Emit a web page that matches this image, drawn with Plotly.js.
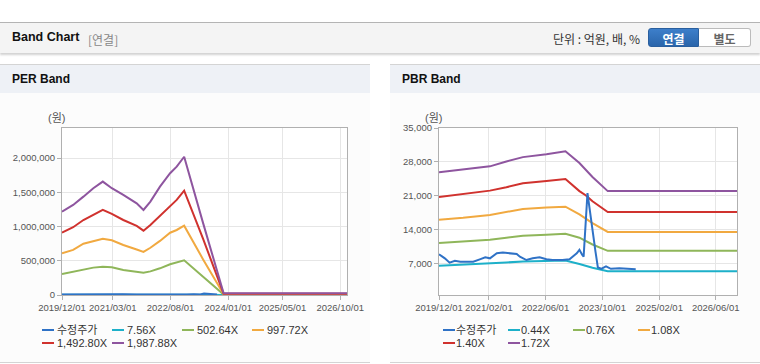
<!DOCTYPE html>
<html><head><meta charset="utf-8">
<script src="https://cdn.plot.ly/plotly-3.0.1.min.js"></script>
<style>
html,body{margin:0;padding:0;background:#fff;}
body{width:760px;height:364px;position:relative;overflow:hidden;font-family:"Liberation Sans","Noto Sans CJK KR",sans-serif;}
#hdr{position:absolute;left:0;top:22px;width:760px;height:30px;border-top:1px solid #b4b4b4;background:#f4f4f4;box-shadow:0 2px 2px rgba(0,0,0,0.18);}
#hdr .t{position:absolute;left:12px;top:7px;font-size:12.5px;font-weight:bold;color:#111;}
#hdr .s{position:absolute;left:88px;top:8px;font-size:12px;color:#888;font-family:"Noto Sans CJK KR",sans-serif;}
#hdr .u{position:absolute;left:553px;top:7px;font-size:12px;color:#333;font-family:"Noto Sans CJK KR",sans-serif;}
.btn{position:absolute;top:5px;height:19px;width:51px;line-height:19px;text-align:center;font-size:12px;font-weight:bold;font-family:"Noto Sans CJK KR",sans-serif;box-sizing:border-box;}
#b1{left:648px;background:linear-gradient(#3d7fca,#2a65ab);color:#fff;border:1px solid #2a5f9e;border-radius:3px 0 0 3px;}
#b2{left:699px;width:52px;background:#fff;color:#666;border:1px solid #bbb;border-left:none;border-radius:0 3px 3px 0;}
.panel{position:absolute;top:64px;width:370px;height:297px;border-top:1px solid #d4d4d4;border-bottom:1px solid #d4d4d4;background:#fcfcfc;}
.panel .ph{height:28px;background:#eef1f6;position:relative;}
.panel .ph span{position:absolute;left:12px;top:7px;font-size:12px;font-weight:bold;color:#111;}
.chart{position:absolute;left:0;top:28px;width:370px;height:269px;}
</style></head><body>
<div id="hdr"><span class="t">Band Chart</span><span class="s">[연결]</span>
<span class="u">단위 : 억원, 배, %</span><div class="btn" id="b1">연결</div><div class="btn" id="b2">별도</div></div>
<div class="panel" style="left:0"><div class="ph"><span>PER Band</span></div><div class="chart" id="per"></div></div>
<div class="panel" style="left:390px"><div class="ph"><span>PBR Band</span></div><div class="chart" id="pbr"></div></div>
<script>
// ---- shared price series (수정주가) ----
const priceDates = ['2019-12-01','2020-01-20','2020-03-01','2020-04-15','2020-06-01','2020-09-20','2020-11-15','2021-01-01','2021-02-10','2021-04-10','2021-06-01','2021-09-28','2021-10-25','2021-12-20','2022-02-12','2022-04-12','2022-06-10','2022-08-01','2022-10-25','2022-12-25','2023-02-25','2023-03-20','2023-04-12','2023-04-25','2023-05-28','2023-06-12','2023-07-10','2023-08-05','2023-08-25','2023-09-22','2023-11-03','2023-12-15','2024-02-25','2024-07-15'];
const priceValues = [9000,8150,7250,7650,7450,7450,7950,8350,8150,9200,9330,9050,8500,7800,8150,8350,7950,7800,7800,7950,9200,9900,8900,8500,21600,18800,13600,9500,6300,6000,6500,6000,6100,5900];
const perPriceEnd = '2023-09-22';

// ---- PER band ----
const perDates = ['2019-12-01','2020-03-10','2020-06-10','2020-09-07','2020-12-01','2021-02-20','2021-06-03','2021-10-01','2021-12-01','2022-02-01','2022-04-28','2022-07-28','2022-09-25','2022-12-01','2023-05-20','2023-11-20','2026-12-01'];
const perNames = ['7.56X','502.64X','997.72X','1,492.80X','1,987.88X'];
const per756  = [4600,5100,5600,6000,6200,6100,5500,5100,4900,5200,5900,6800,7200,7600,4000,100,100];
const per502  = [307000,340000,375000,400000,414000,405000,365000,340000,326000,345000,390000,450000,480000,507000,268000,6300,6300];
const per997  = [609000,660000,750000,790000,823000,800000,731000,665000,629000,690000,790000,910000,950000,1013000,520000,12500,12500];
const per1492 = [911000,990000,1096000,1170000,1243000,1184000,1096000,1009000,940000,1023000,1155000,1290000,1389000,1525000,820000,19000,19000];
const per1987 = [1218000,1316000,1437000,1560000,1657000,1560000,1462000,1340000,1243000,1364000,1583000,1779000,1876000,2020000,1050000,25000,25000];
const perTickVals = ['2019-12-01','2021-03-01','2022-08-01','2024-01-01','2025-05-01','2026-10-01'];
const perTickText = ['2019/12/01','2021/03/01','2022/08/01','2024/01/01','2025/05/01','2026/10/01'];

// ---- PBR band ----
const pbrDates = ['2019-12-01','2020-06-25','2021-02-10','2021-07-01','2021-11-20','2022-06-10','2022-11-20','2023-03-20','2023-05-15','2023-07-10','2023-11-18','2026-12-01'];
const pbrNames = ['0.44X','0.76X','1.08X','1.40X','1.72X'];
const pbr044 = [6600,6800,7100,7300,7500,7600,7700,7000,6600,6200,5500,5500];
const pbr076 = [11300,11600,12000,12400,12800,13000,13200,12400,11700,11000,9700,9700];
const pbr108 = [16100,16500,17100,17700,18300,18600,18800,17200,16300,15400,13600,13600];
const pbr140 = [20800,21400,22100,22800,23600,24100,24500,22000,21100,19900,17700,17700];
const pbr172 = [25900,26400,27100,28100,29000,29600,30200,27800,26300,24900,22000,22000];
const pbrTickVals = ['2019-12-01','2021-02-01','2022-06-01','2023-10-01','2025-02-01','2026-06-01'];
const pbrTickText = ['2019/12/01','2021/02/01','2022/06/01','2023/10/01','2025/02/01','2026/06/01'];

const priceName = '수정주가';
const xRange = ['2019-12-01','2026-12-01'];
const bandColors = ['#1db0c9','#8fb65a','#f1a940','#d0322e','#8e559f'];
const priceColor = '#2f72c6';

const FONT = '"Liberation Sans","Noto Sans CJK KR",sans-serif';

function makeTraces(dates, bands, names, pDates, pVals){
  const tr = bands.map((v,i)=>({x:dates,y:v,name:names[i],type:'scatter',mode:'lines',
    line:{color:bandColors[i],width:2},legendrank:i+2,hoverinfo:'skip'}));
  tr.push({x:pDates,y:pVals,name:priceName,type:'scatter',mode:'lines',
    line:{color:priceColor,width:2},legendrank:1,hoverinfo:'skip'});
  return tr;
}
function axisBase(){
  return {showgrid:true,gridcolor:'#e6e6e6',gridwidth:1,showline:true,linecolor:'#b0b0b0',linewidth:1,mirror:true,
    ticks:'outside',ticklen:4,tickcolor:'#b0b0b0',tickfont:{family:FONT,size:9.5,color:'#555'},
    zeroline:false,fixedrange:true,automargin:false};
}
function makeLayout(l, tv, tt, yr, ytick0, ydtick, ew, annX){
  const xa = Object.assign(axisBase(),{type:'date',range:xRange,tickmode:'array',tickvals:tv,ticktext:tt,tickangle:0});
  const ya = Object.assign(axisBase(),{range:yr,tick0:ytick0,dtick:ydtick,tickformat:',d'});
  return {
    width:370,height:269,margin:{l:l,r:23,t:35,b:67,autoexpand:false},
    paper_bgcolor:'#fcfcfc',plot_bgcolor:'#ffffff',
    font:{family:FONT,size:10,color:'#555'},
    showlegend:true,
    legend:{orientation:'h',x:0,xanchor:'left',y:-0.05,yanchor:'top',
      font:{family:FONT,size:11,color:'#333'},bgcolor:'rgba(0,0,0,0)',
      entrywidth:ew,entrywidthmode:'pixels',traceorder:'normal'},
    xaxis:xa, yaxis:ya,
    annotations:[{text:'(원)',xref:'paper',yref:'paper',x:annX,y:1.06,xanchor:'center',yanchor:'middle',
      showarrow:false,font:{family:FONT,size:11,color:'#555'}}]
  };
}
function parseT(s){
  const m = /translate\(\s*([-\d.e]+)[ ,]+([-\d.e]+)\s*\)/.exec(s||'');
  return m ? [+m[1], +m[2]] : [0,0];
}
// compact legend: short line swatches, 13px row pitch, first row centred at rowY
function tweakLegend(gd, lineX, textX, rowY){
  const lg = gd.querySelector('.legend');
  if(!lg) return;
  const ly = parseT(lg.getAttribute('transform'))[1];
  lg.querySelectorAll('[clip-path]').forEach(e=>e.removeAttribute('clip-path'));
  lg.querySelectorAll('.scrollbar').forEach(e=>e.remove());
  const items = lg.querySelectorAll('.traces');
  let y0 = null; const pos = [];
  items.forEach(t=>{ const [x,y] = parseT(t.getAttribute('transform')); pos.push([t,x,y]); if(y0===null||y<y0) y0=y; });
  pos.forEach(([t,x,y])=>{
    const row = Math.round((y-y0)/19);
    t.setAttribute('transform','translate('+x+','+(rowY-ly+row*13)+')');
    const p = t.querySelector('.legendlines path');
    if(p) p.setAttribute('d','M'+lineX+',0h12');
    const tx = t.querySelector('.legendtext');
    if(tx){ tx.setAttribute('x', textX); tx.querySelectorAll('tspan').forEach(s=>{ if(s.hasAttribute('x')) s.setAttribute('x',textX); }); }
  });
}

const priceLeftD = priceDates.filter(d=>d<=perPriceEnd);
const priceLeftV = priceValues.slice(0, priceLeftD.length);

Plotly.newPlot('per',
  makeTraces(perDates,[per756,per502,per997,per1492,per1987],perNames,priceLeftD,priceLeftV),
  makeLayout(62,perTickVals,perTickText,[0,2440000],0,500000,25,-0.018),
  {staticPlot:true,displayModeBar:false}).then(gd=>tweakLegend(gd,-20,-5,237));

Plotly.newPlot('pbr',
  makeTraces(pbrDates,[pbr044,pbr076,pbr108,pbr140,pbr172],pbrNames,priceDates,priceValues),
  makeLayout(49,pbrTickVals,pbrTickText,[600,35000],0,7000,20,-0.017),
  {staticPlot:true,displayModeBar:false}).then(gd=>tweakLegend(gd,4,17,237));
</script>
</body></html>
